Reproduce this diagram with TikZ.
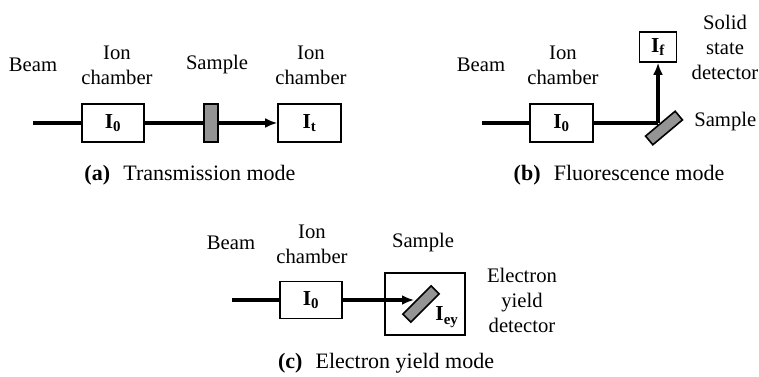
\documentclass[tikz,border=0pt]{standalone}
\usepackage{fontspec}
\setmainfont{Liberation Serif}
\usetikzlibrary{arrows.meta}
\begin{document}
\begin{tikzpicture}[x=0.75pt,y=-0.75pt,
  lbl/.style={align=center,font=\fontsize{15.5}{18.75}\selectfont,inner sep=0pt},
  captxt/.style={font=\fontsize{16.5}{19}\selectfont,inner sep=0pt},
  box/.style={draw,line width=1.2pt,fill=white,inner sep=0pt,font=\fontsize{16}{18}\selectfont\bfseries},
  smp/.style={draw,line width=1.2pt,fill=black!42,inner sep=0pt},
  beam/.style={line width=2.5pt},
  arr/.style={line width=2.5pt,-{Latex[length=9pt,width=7.5pt]}}]
\useasboundingbox (0,0) rectangle (759,377);
% ---------- (a) ----------
\coordinate (sA) at (33,123);
\node[box,minimum width=46.5pt,minimum height=28.5pt] (A0) at (113,123) {I\textsubscript{0}};
\node[smp,minimum width=10.5pt,minimum height=28.5pt] (SA) at (211,123) {};
\node[box,minimum width=47.25pt,minimum height=28.5pt] (At) at (309.5,123) {I\textsubscript{t}};
\draw[beam] (sA) -- (A0.west);
\draw[beam] (A0.east) -- (SA.west);
\draw[arr] (SA.east) -- (At.west);
\node[lbl] (bA) at (33,65) {Beam};
\node[lbl] (iA) at (117,65) {Ion\\chamber};
\node[lbl] (smA) at (217,65) {Sample};
\node[lbl] (iA2) at (311,65) {Ion\\chamber};
\node[captxt] (capA) at (190,175) {\textbf{(a)}\hspace{0.6em}Transmission mode};
% ---------- (b) ----------
\coordinate (sB) at (482,123);
\node[box,minimum width=47.25pt,minimum height=28.5pt] (B0) at (561.5,123) {I\textsubscript{0}};
\node[box,minimum width=27.75pt,minimum height=22.5pt] (Bf) at (658,47) {I\textsubscript{f}};
\node[smp,minimum width=29pt,minimum height=8.5pt,rotate=40] (SB) at (664,128) {};
\coordinate (cB) at (658,123);
\draw[beam] (sB) -- (B0.west);
\draw[beam] (B0.east) -- (cB);
\draw[arr] (cB) -- (Bf.south);
\node[lbl] (bB) at (481,65) {Beam};
\node[lbl] (iB) at (563,65) {Ion\\chamber};
\node[lbl] (dB) at (725,47) {Solid\\state\\detector};
\node[lbl,anchor=west] (smB) at (694,122) {Sample};
\node[captxt] (capB) at (619,175) {\textbf{(b)}\hspace{0.6em}Fluorescence mode};
% ---------- (c) ----------
\coordinate (sC) at (232,300);
\node[box,minimum width=46.5pt,minimum height=27.75pt] (C0) at (311,300) {I\textsubscript{0}};
\node[draw,line width=1.2pt,minimum width=60pt,minimum height=46.5pt,inner sep=0pt] (D) at (425,304) {};
\node[smp,minimum width=30pt,minimum height=8.5pt,rotate=45] (SC) at (421,304) {};
\coordinate (tC) at (414,300);
\draw[beam] (sC) -- (C0.west);
\draw[arr] (C0.east) -- (tC);
\node[inner sep=0pt,font=\fontsize{16}{18}\selectfont\bfseries] (Iey) at (447,317) {I\textsubscript{ey}};
\node[lbl] (bC) at (231,243) {Beam};
\node[lbl] (iC) at (312,244) {Ion\\chamber};
\node[lbl] (smC) at (423,243) {Sample};
\node[lbl] (dC) at (522,300) {Electron\\yield\\detector};
\node[captxt] (capC) at (386,363) {\textbf{(c)}\hspace{0.6em}Electron yield mode};
\end{tikzpicture}
\end{document}
